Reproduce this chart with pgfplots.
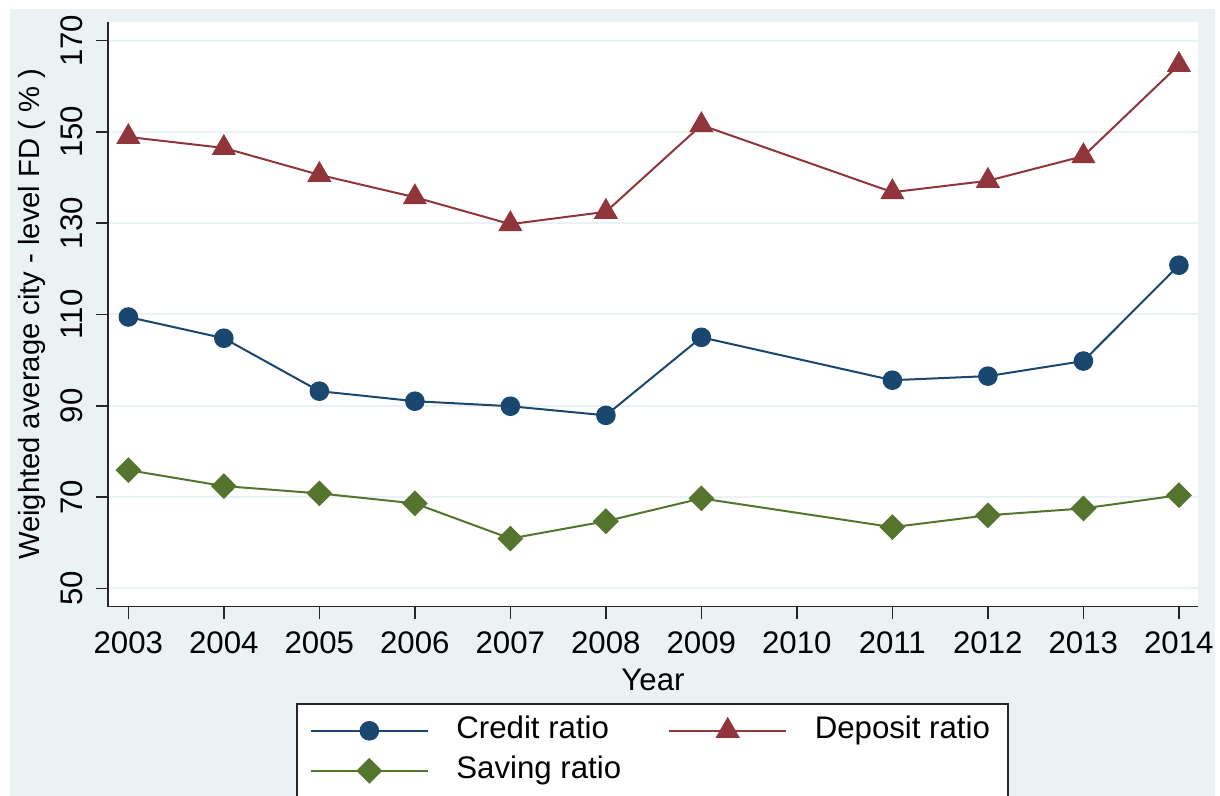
\documentclass[border=0pt]{standalone}
\usepackage{pgfplots}
\pgfplotsset{compat=1.18}
\usepackage{fontspec}
\setmainfont{Liberation Sans}
\definecolor{stnavy}{HTML}{1A476F}
\definecolor{stmaroon}{HTML}{90353B}
\definecolor{stgreen}{HTML}{55752F}
\definecolor{stbg}{HTML}{EAF2F3}
\newcommand{\fs}{\fontsize{15.6}{18.5}\selectfont}
\newcommand{\fsy}{\fontsize{14.6}{17.5}\selectfont}
\begin{document}
\begin{tikzpicture}
\useasboundingbox (0,0) rectangle (610pt,398pt);
\fill[white] (0,0) rectangle (610pt,398pt);
\fill[stbg] (5pt,0) rectangle (607.5pt,393.5pt);
\begin{axis}[
  at={(54pt,94.65pt)}, anchor=south west,
  scale only axis, width=545pt, height=292.35pt,
  axis background/.style={fill=white},
  xmin=2002.787, xmax=2014.2, ymin=45.97, ymax=174.1,
  axis lines*=left, axis line style={-, line width=0.8pt, black!85},
  xtick={2003,...,2014}, ytick={50,70,...,170},
  tick align=outside, major tick length=6pt,
  tick style={line width=0.8pt, black!85},
  ymajorgrids, grid style={stbg, line width=1pt},
  /pgf/number format/assume math mode=true,
  /pgf/number format/1000 sep={},
  tick label style={font=\fs},
  xticklabel style={inner sep=0pt, yshift=-6.5pt},
  yticklabel style={inner sep=0pt, xshift=-6.5pt, rotate=90, anchor=south},
  xlabel={Year}, ylabel={Weighted average city - level FD ( \% )},
  xlabel style={font=\fs, at={(axis description cs:0.5,-0.1254)}, anchor=center},
  ylabel style={font=\fsy, at={(axis description cs:-0.0697,0.5)}, anchor=center},
  legend columns=2,
  legend style={at={(0.1725,-0.1652)}, anchor=north west, draw=black!85, line width=0.8pt, fill=white,
    font=\fs, inner xsep=6.5pt, inner ysep=6.35pt, row sep=6pt,
    nodes={inner sep=0pt, text height=11pt, text depth=3pt},
    /tikz/every odd column/.style={column sep=13.8pt},
    /tikz/every even column/.style={column sep=23.5pt}},
  legend cell align=left,
  legend image code/.code={\draw[line width=1pt, #1, mark repeat=2, mark phase=2] plot coordinates {(0pt,0pt) (29.25pt,0pt) (58.5pt,0pt)};},
]
\addplot[stnavy, line width=1pt, mark=*, mark size=4.4pt, mark options={solid, fill=stnavy, draw=stnavy}] coordinates {
(2003,109.45) (2004,104.8) (2005,93.2) (2006,91.0) (2007,89.9) (2008,87.9) (2009,105.0) (2011,95.6) (2012,96.5) (2013,99.8) (2014,120.8)};
\addlegendentry{Credit ratio}
\addplot[stmaroon, line width=1pt, mark=triangle*, mark size=6pt, mark options={solid, fill=stmaroon, draw=stmaroon}] coordinates {
(2003,148.9) (2004,146.5) (2005,140.6) (2006,135.7) (2007,129.8) (2008,132.5) (2009,151.5) (2011,136.8) (2012,139.3) (2013,144.7) (2014,164.7)};
\addlegendentry{Deposit ratio\hspace*{2.4pt}}
\addplot[stgreen, line width=1pt, mark=square*, mark size=4.07pt, mark options={solid, rotate=45, fill=stgreen, draw=stgreen}] coordinates {
(2003,75.9) (2004,72.4) (2005,70.8) (2006,68.6) (2007,60.9) (2008,64.7) (2009,69.7) (2011,63.4) (2012,66.0) (2013,67.5) (2014,70.4)};
\addlegendentry{Saving ratio}
\end{axis}
\end{tikzpicture}
\end{document}
